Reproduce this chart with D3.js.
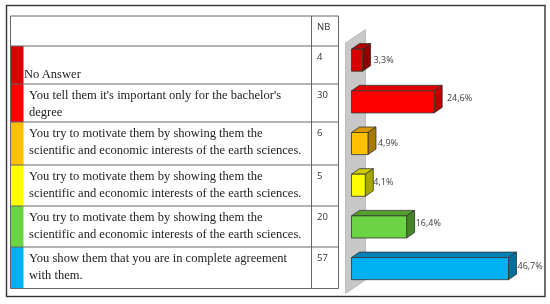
<!DOCTYPE html>
<html>
<head>
<meta charset="utf-8">
<script src="https://cdn.jsdelivr.net/npm/d3@7"></script>
<style>
html, body { margin: 0; padding: 0; background: #fff; }
svg { display: block; filter: blur(0.35px); }
</style>
</head>
<body>
<svg></svg>
<script>
// values
const rowLabels = [
    ["No Answer"],
    ["You tell them it's important only for the bachelor's", "degree"],
    ["You try to motivate them by showing them the", "scientific and economic interests of the earth sciences."],
    ["You try to motivate them by showing them the", "scientific and economic interests of the earth sciences."],
    ["You try to motivate them by showing them the", "scientific and economic interests of the earth sciences."],
    ["You show them that you are in complete agreement", "with them."]
]
const counts = [4, 30, 6, 5, 20, 57]
const percents = [3.3, 24.6, 4.9, 4.1, 16.4, 46.7]
const frontColors = ["#d90000", "#ff0000", "#ffc000", "#ffff00", "#6cd444", "#00b0f0"]
const topColors = ["#b80000", "#e00000", "#d99a00", "#cccc00", "#559f2f", "#0082b8"]
const sideColors = ["#8f0000", "#b80000", "#a87a00", "#a8a800", "#468528", "#006f9e"]
const header = "NB"

const width = 550
const height = 304

//table layout, rows are not all the same height
const tableLeft = 10.5
const tableDivider = 311.5
const tableRight = 338.5
const swatchRight = 23.5
const rowEdges = [16, 46, 84, 122, 165, 206, 247, 288.5]

const svg = d3.select("svg").attr("width", width).attr("height", height)

//outer frame
svg.append("rect")
    .attr("x", 6.5).attr("y", 5.5)
    .attr("width", 538.5).attr("height", 291)
    .attr("fill", "#fff")
    .attr("stroke", "#333")
    .attr("stroke-width", 1.4)

//colored swatches on the left of each row
const rows = svg.append("g")
rows.selectAll("rect")
    .data(frontColors)
    .enter()
    .append("rect")
    .attr("x", tableLeft)
    .attr("y", (d, i) => rowEdges[i + 1])
    .attr("width", swatchRight - tableLeft)
    .attr("height", (d, i) => rowEdges[i + 2] - rowEdges[i + 1])
    .attr("fill", d => d)

//table lines
const tableLines = svg.append("g").attr("stroke", "#666").attr("stroke-width", 1)
tableLines.selectAll("line")
    .data(rowEdges)
    .enter()
    .append("line")
    .attr("x1", tableLeft).attr("x2", tableRight)
    .attr("y1", d => d).attr("y2", d => d)
tableLines.selectAll(null)
    .data([tableLeft, tableDivider, tableRight])
    .enter()
    .append("line")
    .attr("x1", d => d).attr("x2", d => d)
    .attr("y1", rowEdges[0]).attr("y2", rowEdges[rowEdges.length - 1])

//row text
const labelG = svg.append("g")
    .attr("font-family", "'Liberation Serif', serif")
    .attr("font-size", 12.55)
    .attr("fill", "#222")
rowLabels.forEach((lines, i) => {
    const single = lines.length === 1
    lines.forEach((line, j) => {
        labelG.append("text")
            .attr("x", single ? 24 : 29)
            .attr("y", single ? rowEdges[i + 2] - 6 : rowEdges[i + 1] + 14.6 + j * 17.6)
            .text(line)
    })
})

const nbG = svg.append("g")
    .attr("font-family", "'Open Sans', sans-serif")
    .attr("font-size", 9.5)
    .attr("fill", "#333")
nbG.append("text").attr("x", 317).attr("y", 30).text(header)
nbG.selectAll(null)
    .data(counts)
    .enter()
    .append("text")
    .attr("x", 317)
    .attr("y", (d, i) => rowEdges[i + 1] + 13.8)
    .text(d => d)

//3d bar chart
const barLeft = 351.5
const xScale = d3.scaleLinear().domain([0, 46.7]).range([0, 157])
const yScale = d3.scaleBand()
    .domain(d3.range(percents.length))
    .range([41.2, 287.6])
    .paddingInner(0.47)
    .paddingOuter(0.19)

const depthX = 8
const depthY = -5.5

//gray wall behind the bars
svg.append("polygon")
    .attr("points", "345.5,43 365.5,29.5 365.5,280 345.5,293.5")
    .attr("fill", "#c8c8c8")
    .attr("stroke", "#b4b4b4")
    .attr("stroke-width", 0.8)

const bars = svg.selectAll(".bar")
    .data(percents)
    .enter()
    .append("g")
    .attr("class", "bar")
    .attr("transform", (d, i) => `translate(${barLeft}, ${yScale(i)})`)
    .attr("stroke", "#333")
    .attr("stroke-width", 0.8)
    .attr("stroke-linejoin", "round")

bars.append("polygon")
    .attr("points", d => {
        const w = xScale(d)
        return [[0, 0], [depthX, depthY], [w + depthX, depthY], [w, 0]].join(" ")
    })
    .attr("fill", (d, i) => topColors[i])

bars.append("polygon")
    .attr("points", d => {
        const w = xScale(d)
        const h = yScale.bandwidth()
        return [[w, 0], [w + depthX, depthY], [w + depthX, h + depthY], [w, h]].join(" ")
    })
    .attr("fill", (d, i) => sideColors[i])

bars.append("rect")
    .attr("width", d => xScale(d))
    .attr("height", yScale.bandwidth())
    .attr("fill", (d, i) => frontColors[i])

const formatPct = d => d.toFixed(1).replace(".", ",") + "%"

//labels were nudged by hand in the original, each one sits a bit differently
const labelNudgeX = [3, 4.7, 2, 0, 1, 1]
const labelNudgeY = [3, -1, 2.2, 0, -1, 0]

svg.append("g")
    .attr("font-family", "'Open Sans', sans-serif")
    .attr("font-size", 9)
    .attr("fill", "#404040")
    .selectAll("text")
    .data(percents)
    .enter()
    .append("text")
    .attr("x", (d, i) => barLeft + xScale(d) + depthX + labelNudgeX[i])
    .attr("y", (d, i) => yScale(i) + yScale.bandwidth() / 2 + labelNudgeY[i])
    .text(formatPct)
</script>
</body>
</html>
